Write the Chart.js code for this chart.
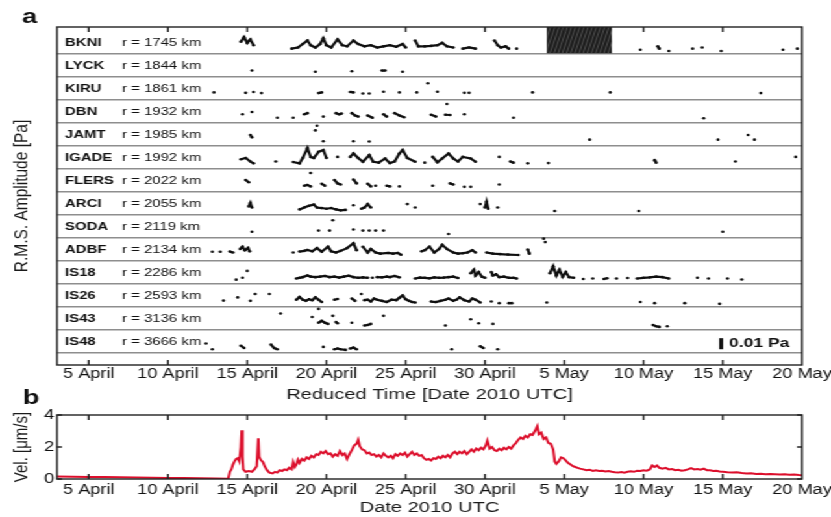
<!DOCTYPE html>
<html>
<head>
<meta charset="utf-8">
<script src="https://cdn.jsdelivr.net/npm/chart.js@4.4.1/dist/chart.umd.min.js"></script>
<style>
  html, body { margin: 0; padding: 0; background: #fff; overflow: hidden; }
  #wrap { position: relative; width: 640px; height: 517px; transform: scaleX(1.2984); transform-origin: 0 0; }
  #wrap canvas { position: absolute; left: 0; }
  #chartA { top: 0; }
  #chartB { top: 380px; }
</style>
</head>
<body>
<div id="wrap">
  <canvas id="chartA" width="640" height="410"></canvas>
  <canvas id="chartB" width="640" height="137"></canvas>
</div>
<script>
// the original figure is stretched sideways, so the canvases are too
const S = 1.2984;
const FONT = "'Liberation Sans', Arial, Helvetica, sans-serif";
const INK = '#111';

const stations = ['BKNI', 'LYCK', 'KIRU', 'DBN', 'JAMT', 'IGADE', 'FLERS', 'ARCI', 'SODA', 'ADBF', 'IS18', 'IS26', 'IS43', 'IS48'];
const distances = [1745, 1844, 1861, 1932, 1985, 1992, 2022, 2055, 2119, 2134, 2286, 2593, 3136, 3666];

// days counted from 0 April 2010
const tickDays = [5, 10, 15, 20, 25, 30, 35, 40, 45, 50];
const tickLabels = ['5 April', '10 April', '15 April', '20 April', '25 April', '30 April', '5 May', '10 May', '15 May', '20 May'];

// r.m.s. amplitude traces: [day, height above the row floor in row units], null = break
const bkni = [[14.6,0.5],[14.8,0.7],[15.0,0.45],[15.2,0.6],[15.4,0.35],null,
  [17.8,0.2],[18.2,0.25],[18.5,0.4],[18.8,0.55],[19.0,0.35],[19.3,0.25],[19.6,0.4],[19.8,0.65],[20.0,0.35],[20.3,0.25],[20.7,0.6],[21.0,0.35],[21.3,0.3],[21.7,0.55],[22.0,0.4],[22.4,0.3],[22.8,0.35],[23.2,0.25],[23.6,0.3],[24.0,0.35],[24.4,0.28],[24.8,0.4],[25.0,0.25],null,
  [25.6,0.55],[25.8,0.3],[26.2,0.3],[26.6,0.32],[27.0,0.35],[27.3,0.45],[27.6,0.3],[28.0,0.25],null,[28.6,0.2],[29.0,0.25],[29.4,0.2],null,
  [30.6,0.55],[30.8,0.35],[31.0,0.25],[31.3,0.3],[31.5,0.2],null,[32.0,0.2],null,
  [39.8,0.15],null,[40.9,0.3],[41.0,0.2],null,[41.6,0.1],null,[43.1,0.2],null,[43.7,0.25],null,[44.9,0.1],null,[48.8,0.15],null,[49.7,0.2]];
const lyck = [[15.3,0.25],null,[19.3,0.2],null,[21.6,0.22],null,[23.5,0.25],[23.7,0.25],null,[24.8,0.2]];
const kiru = [[12.9,0.3],null,[14.9,0.28],null,[15.4,0.32],null,[15.9,0.27],null,[19.5,0.27],[19.7,0.3],null,[21.5,0.32],[21.7,0.3],null,
  [22.3,0.25],null,[22.7,0.25],null,[23.6,0.33],null,[24.6,0.3],null,[25.7,0.3],null,[26.4,0.7],null,[27.0,0.33],null,[28.7,0.28],null,
  [29.0,0.28],null,[33.0,0.3],null,[37.9,0.3],null,[47.4,0.27]];
const dbn = [[14.7,0.35],null,[15.3,0.45],null,[16.9,0.2],null,[17.9,0.2],null,[18.6,0.35],[18.8,0.4],null,[19.8,0.25],null,
  [20.6,0.4],[20.8,0.35],[20.95,0.38],null,[21.6,0.4],[21.8,0.3],[22.0,0.25],null,[22.6,0.3],[22.9,0.2],null,[23.6,0.35],[23.8,0.25],null,
  [24.3,0.4],[24.6,0.3],[24.9,0.22],null,[26.6,0.33],[26.9,0.25],null,[27.5,0.33],[27.8,0.32],null,[27.6,0.8],null,[28.7,0.35],null,
  [31.8,0.2],null,[43.8,0.18]];
const jamt = [[15.2,0.45],[15.3,0.35],null,[19.4,0.85],null,[19.3,0.65],null,[19.8,0.18],null,[21.7,0.18],null,[22.7,0.17],null,
  [36.6,0.25],null,[44.7,0.25],null,[46.6,0.45],null,[47.0,0.25]];
const igade = [[14.6,0.4],[14.9,0.45],[15.2,0.3],[15.4,0.22],null,[16.8,0.3],null,
  [17.9,0.28],[18.3,0.22],[18.5,0.45],[18.8,0.88],[19.0,0.5],[19.2,0.45],[19.5,0.72],[19.8,0.8],[20.0,0.45],null,[20.7,0.5],null,
  [21.5,0.5],[21.7,0.65],[22.0,0.45],[22.3,0.29],[22.7,0.58],[22.95,0.29],[23.3,0.25],[23.7,0.43],[24.0,0.23],[24.3,0.3],[24.6,0.65],[24.8,0.8],[25.1,0.45],[25.6,0.29],null,
  [26.2,0.25],null,[26.7,0.5],[27.0,0.27],[27.3,0.43],[27.7,0.65],[28.0,0.43],[28.3,0.3],[28.6,0.5],[29.1,0.43],[29.4,0.29],null,
  [30.9,0.5],null,[31.6,0.3],[31.8,0.25],null,[32.7,0.22],null,[34.0,0.23],null,[40.7,0.36],[40.8,0.25],null,[45.8,0.3],null,[49.6,0.5]];
const flers = [[14.9,0.5],[15.1,0.4],null,[18.6,0.25],[18.8,0.28],[19.0,0.22],null,[19.0,0.8],null,[19.7,0.33],[19.9,0.25],null,
  [20.5,0.5],[20.7,0.35],[20.9,0.3],null,[21.7,0.52],[21.9,0.35],null,[22.6,0.33],[22.8,0.22],null,[23.1,0.25],null,[23.8,0.25],[24.0,0.22],null,
  [24.6,0.22],null,[26.7,0.25],null,[27.8,0.35],[28.0,0.3],null,[28.7,0.2],null,[29.1,0.2],null,[30.9,0.3]];
const arci = [[15.1,0.35],[15.2,0.5],[15.3,0.3],null,
  [18.3,0.22],[18.6,0.3],[18.9,0.38],[19.2,0.43],[19.4,0.3],[19.7,0.28],[20.0,0.25],[20.3,0.28],[20.6,0.22],[20.9,0.18],[21.2,0.2],null,
  [21.7,0.4],null,[22.2,0.25],[22.4,0.3],[22.6,0.45],[22.8,0.3],null,[25.1,0.45],null,[25.6,0.3],null,[29.7,0.45],null,
  [30.0,0.3],[30.1,0.55],[30.2,0.25],null,[30.8,0.3],null,[34.4,0.15],null,[39.7,0.15]];
const soda = [[15.3,0.25],null,[20.4,0.75],null,[19.5,0.3],null,[20.2,0.3],null,[21.7,0.35],null,[22.3,0.3],null,[22.7,0.3],null,
  [23.1,0.3],null,[23.6,0.3],null,[27.7,0.15],null,[45.0,0.25]];
const adbf = [[12.8,0.38],null,[13.3,0.38],null,[13.9,0.39],[14.1,0.35],null,[14.55,0.5],[14.7,0.6],[14.85,0.45],[15.05,0.55],[15.15,0.4],null,
  [17.9,0.35],null,[18.3,0.39],[18.6,0.42],[18.8,0.46],[19.1,0.4],[19.4,0.54],[19.7,0.38],[20.1,0.6],[20.3,0.4],[20.6,0.35],[20.9,0.42],[21.3,0.54],[21.7,0.75],[21.9,0.45],null,
  [22.3,0.6],[22.6,0.35],[22.8,0.5],[23.1,0.35],[23.4,0.3],[23.9,0.33],[24.2,0.3],[24.5,0.33],[24.7,0.25],null,
  [26.0,0.4],[26.2,0.45],[26.5,0.6],[26.8,0.35],[27.1,0.5],[27.3,0.68],[27.6,0.5],[28.0,0.35],[28.3,0.3],[28.6,0.32],[28.9,0.35],[29.2,0.45],[29.4,0.35],null,
  [30.1,0.35],[30.5,0.3],[30.95,0.28],[31.45,0.26],[32.1,0.24],null,[32.7,0.48],[32.8,0.3],null,[33.7,0.95],null,[33.8,0.8]];
const is18 = [[14.3,0.17],null,[14.7,0.25],null,[15.0,0.55],null,
  [18.1,0.22],[18.3,0.25],[18.5,0.28],[18.8,0.35],[19.0,0.3],[19.3,0.28],[19.6,0.3],[19.9,0.33],[20.2,0.28],[20.5,0.3],[20.8,0.26],[21.1,0.3],[21.4,0.34],[21.7,0.28],[22.0,0.25],[22.3,0.27],[22.6,0.25],null,
  [22.9,0.25],null,[23.2,0.28],[23.5,0.27],[23.8,0.3],[24.0,0.28],[24.3,0.33],[24.6,0.27],null,
  [25.6,0.22],[25.9,0.26],[26.2,0.25],[26.5,0.23],[26.8,0.27],[27.1,0.25],[27.4,0.26],[27.7,0.28],[28.0,0.3],[28.3,0.24],null,
  [29.1,0.45],[29.3,0.6],[29.4,0.35],[29.6,0.5],[29.8,0.3],[30.0,0.25],null,
  [30.4,0.5],[30.5,0.35],[30.7,0.4],[30.9,0.28],[31.2,0.3],[31.5,0.25],[31.8,0.25],[32.0,0.22],null,
  [34.1,0.45],[34.3,0.75],[34.5,0.35],[34.7,0.6],[34.9,0.3],[35.1,0.5],[35.3,0.28],[35.6,0.25],null,
  [36.2,0.2],null,[36.8,0.22],null,[37.5,0.2],[37.7,0.23],null,[38.3,0.22],null,[39.0,0.24],null,
  [39.6,0.22],[40.0,0.25],[40.4,0.27],[40.8,0.3],[41.2,0.28],[41.6,0.22],null,[43.4,0.25],null,[44.1,0.22],null,[45.3,0.22],null,[46.2,0.18]];
const is26 = [[13.5,0.26],null,[14.4,0.4],null,[15.2,0.25],null,[15.5,0.55],null,[16.4,0.55],null,
  [18.1,0.3],[18.3,0.42],[18.5,0.3],[18.7,0.25],[18.9,0.32],[19.1,0.28],[19.3,0.4],[19.5,0.3],[19.7,0.2],null,[20.5,0.3],[20.7,0.33],null,
  [21.6,0.35],[21.8,0.25],null,[22.2,0.55],null,
  [22.4,0.28],[22.6,0.3],[22.8,0.22],[23.0,0.35],[23.2,0.3],[23.5,0.25],[23.8,0.2],[24.1,0.3],[24.4,0.28],[24.6,0.38],[24.8,0.48],[25.0,0.32],[25.2,0.25],[25.4,0.2],[25.6,0.18],null,
  [26.6,0.22],[26.9,0.2],[27.2,0.25],[27.5,0.3],[27.7,0.35],[28.0,0.25],[28.2,0.3],[28.4,0.4],[28.7,0.28],[29.0,0.22],[29.2,0.35],[29.4,0.3],[29.7,0.18],null,
  [30.4,0.22],null,[30.9,0.15],null,[31.5,0.15],[31.7,0.15],null,[33.9,0.18],null,[39.8,0.2],null,[40.7,0.15],null,[42.6,0.15],null,[44.8,0.12]];
const is43 = [[17.1,0.7],null,[19.1,0.55],null,[19.5,0.9],null,[19.5,0.3],[19.7,0.38],[19.9,0.3],[20.1,0.25],null,[20.4,0.6],null,
  [20.6,0.33],[20.7,0.28],null,[21.6,0.3],null,[22.4,0.18],[22.6,0.2],[22.8,0.25],null,[23.6,0.6],null,[27.5,0.18],null,
  [29.1,0.45],null,[29.6,0.28],null,[30.5,0.25],null,[40.6,0.2],[40.8,0.15],[41.0,0.12],null,[41.5,0.15]];
const is48 = [[12.4,0.4],null,[12.8,0.15],null,[14.6,0.3],[14.8,0.2],null,[16.5,0.35],[16.7,0.2],[16.9,0.15],null,[19.8,0.25],null,
  [20.5,0.15],[20.7,0.18],[20.9,0.15],[21.2,0.12],null,[21.5,0.18],[21.7,0.22],[21.9,0.15],null,[27.9,0.15],null,
  [29.7,0.28],[29.9,0.2],null,[30.8,0.15]];
const amplitudes = [bkni, lyck, kiru, dbn, jamt, igade, flers, arci, soda, adbf, is18, is26, is43, is48];

// BKNI has no data here (hatched)
const bkniGap = [33.9, 38.0];

// ground velocity [day, µm/s]
const velocity = [[3,0.15],[4,0.14],[5,0.13],[6,0.12],[7,0.11],[8,0.1],[9,0.08],[10,0.07],[11,0.06],[12,0.04],[13,0.03],[13.8,0.02],
  [13.9,0.45],[14.0,0.6],[14.1,0.9],[14.2,1.1],[14.3,1.25],[14.4,1.3],[14.5,1.1],[14.6,2.0],[14.65,3.05],[14.7,1.4],[14.75,0.6],[14.9,0.45],
  [15.1,0.5],[15.3,0.45],[15.45,0.6],[15.6,0.8],[15.7,2.55],[15.75,1.4],[15.85,1.2],[16.0,1.05],[16.1,0.8],[16.25,0.55],[16.4,0.4],[16.6,0.35],
  [16.75,0.45],[16.9,0.4],[17.05,0.55],[17.2,0.5],[17.35,0.6],[17.5,0.55],[17.65,0.7],[17.8,0.6],[17.9,1.05],[18.0,0.75],[18.1,0.9],[18.2,1.2],
  [18.3,1.0],[18.45,1.25],[18.6,1.15],[18.75,1.35],[18.9,1.25],[19.05,1.45],[19.2,1.35],[19.35,1.55],[19.5,1.5],[19.65,1.7],[19.8,1.6],[19.95,1.75],
  [20.1,1.55],[20.25,1.6],[20.4,1.4],[20.55,1.55],[20.7,1.45],[20.85,1.75],[21.0,1.5],[21.15,1.6],[21.3,1.25],[21.45,1.55],[21.6,1.8],[21.75,2.1],
  [21.9,2.2],[22.0,2.45],[22.1,2.05],[22.25,1.85],[22.4,1.8],[22.55,1.6],[22.7,1.65],[22.85,1.5],[23.0,1.55],[23.15,1.4],[23.3,1.5],[23.45,1.35],
  [23.6,1.6],[23.75,1.45],[23.9,1.35],[24.05,1.45],[24.2,1.3],[24.35,1.55],[24.5,1.45],[24.65,1.6],[24.8,1.5],[24.95,1.65],[25.1,1.4],[25.25,1.55],
  [25.4,1.7],[25.55,1.5],[25.7,1.6],[25.85,1.45],[26.0,1.5],[26.15,1.3],[26.3,1.2],[26.45,1.25],[26.6,1.15],[26.75,1.3],[26.9,1.25],[27.05,1.4],
  [27.2,1.3],[27.35,1.45],[27.5,1.35],[27.65,1.5],[27.8,1.35],[27.95,1.6],[28.1,1.7],[28.25,1.55],[28.4,1.7],[28.55,1.6],[28.7,1.75],[28.85,1.55],
  [29.0,1.7],[29.15,1.85],[29.3,1.7],[29.45,1.9],[29.6,1.8],[29.75,1.95],[29.9,1.85],[30.05,2.1],[30.15,2.4],[30.3,1.9],[30.45,2.0],[30.6,1.8],
  [30.75,1.75],[30.9,1.9],[31.05,1.8],[31.2,1.95],[31.35,1.85],[31.5,2.0],[31.65,1.9],[31.8,2.1],[31.95,2.25],[32.1,2.45],[32.25,2.6],[32.4,2.5],
  [32.55,2.7],[32.7,2.6],[32.85,2.8],[33.0,2.75],[33.15,3.0],[33.3,3.3],[33.4,2.8],[33.55,2.9],[33.7,2.5],[33.85,2.6],[34.0,2.25],[34.15,2.2],
  [34.3,1.85],[34.4,1.1],[34.5,0.95],[34.65,1.1],[34.8,1.35],[34.95,1.3],[35.1,1.15],[35.25,1.0],[35.4,0.9],[35.55,0.8],[35.7,0.75],[35.85,0.7],
  [36.0,0.65],[36.2,0.6],[36.4,0.55],[36.6,0.58],[36.8,0.5],[37.0,0.55],[37.2,0.5],[37.4,0.52],[37.6,0.47],[37.8,0.5],[38.0,0.45],[38.2,0.42],
  [38.4,0.4],[38.6,0.44],[38.8,0.4],[39.0,0.45],[39.2,0.48],[39.4,0.45],[39.6,0.52],[39.8,0.5],[40.0,0.55],[40.2,0.52],[40.4,0.6],[40.55,0.85],
  [40.7,0.75],[40.85,0.85],[41.0,0.7],[41.2,0.65],[41.4,0.7],[41.6,0.6],[41.8,0.62],[42.0,0.55],[42.2,0.58],[42.4,0.52],[42.6,0.55],[42.8,0.6],
  [43.0,0.68],[43.2,0.6],[43.4,0.62],[43.6,0.58],[43.8,0.65],[44.0,0.55],[44.2,0.55],[44.4,0.5],[44.6,0.52],[44.8,0.47],[45.0,0.45],[45.3,0.42],
  [45.6,0.4],[45.9,0.42],[46.2,0.37],[46.5,0.35],[46.8,0.36],[47.1,0.32],[47.4,0.33],[47.7,0.3],[48.0,0.31],[48.3,0.3],[48.6,0.28],[48.9,0.3],
  [49.2,0.27],[49.5,0.28],[49.8,0.25],[50,0.24]];
const velTicks = [0, 2, 4];

// ---------- panel a ----------
const rowDatasets = amplitudes.map((trace, i) => {
  const base = stations.length - 1 - i;
  const pts = [];
  let last = 3;
  trace.forEach(p => {
    if (p === null) pts.push({x: last, y: null});
    else { pts.push({x: p[0], y: base + p[1]}); last = p[0]; }
  });
  return {
    label: stations[i], data: pts, showLine: true, spanGaps: false,
    borderColor: '#101010', backgroundColor: '#101010', borderWidth: 2.2,
    pointRadius: 1.3, pointBorderWidth: 0
  };
});

const yMinA = -0.535, yMaxA = 14.14;

const frame = {
  id: 'frame',
  afterDatasetsDraw(chart, args, opts) {
    const {ctx, chartArea: a, scales: {x, y}} = chart;
    ctx.save();
    if (opts.gap) {
      const x0 = x.getPixelForValue(opts.gap[0]), x1 = x.getPixelForValue(opts.gap[1]);
      const yb = y.getPixelForValue(stations.length - 1), yt = a.top;
      ctx.fillStyle = '#1d1d1d';
      ctx.fillRect(x0, yt, x1 - x0, yb - yt);
      ctx.beginPath(); ctx.rect(x0, yt, x1 - x0, yb - yt); ctx.clip();
      ctx.strokeStyle = '#5c5c5c'; ctx.lineWidth = 0.8;
      ctx.beginPath();
      for (let k = -20; k < x1 - x0 + 20; k += 3.2) { ctx.moveTo(x0 + k, yb); ctx.lineTo(x0 + k + 7, yt); }
      ctx.stroke();
    }
    ctx.restore();
  },
  afterDraw(chart, args, opts) {
    const {ctx, chartArea: a, scales: {x, y}} = chart;
    ctx.save();
    ctx.strokeStyle = '#222'; ctx.lineWidth = 1.4;
    ctx.strokeRect(a.left, a.top, a.right - a.left, a.bottom - a.top);
    ctx.beginPath();
    x.ticks.forEach(t => {
      const px = x.getPixelForValue(t.value);
      if (px > a.right - 2) return;
      ctx.moveTo(px, a.top); ctx.lineTo(px, a.top + 5);
      ctx.moveTo(px, a.bottom); ctx.lineTo(px, a.bottom - 5);
    });
    if (opts.yTicks) {
      y.ticks.forEach(t => {
        const py = y.getPixelForValue(t.value);
        ctx.moveTo(a.left, py); ctx.lineTo(a.left + 5 / S, py);
        ctx.moveTo(a.right, py); ctx.lineTo(a.right - 5 / S, py);
      });
    }
    ctx.stroke();
    if (opts.scaleBar) {
      const bx = x.getPixelForValue(44.9);
      const y0 = y.getPixelForValue(0.15), y1 = y.getPixelForValue(0.63);
      ctx.fillStyle = INK;
      ctx.fillRect(bx - 1.5, y1, 3, y0 - y1);
      ctx.font = 'bold 13.5px ' + FONT;
      ctx.textAlign = 'left'; ctx.textBaseline = 'middle';
      ctx.fillText('0.01 Pa', x.getPixelForValue(45.4), y.getPixelForValue(0.4));
    }
    ctx.fillStyle = INK;
    ctx.font = 'bold 21px ' + FONT;
    ctx.textAlign = 'center'; ctx.textBaseline = 'middle';
    ctx.fillText(opts.letter, opts.letterX, opts.letterY);
    ctx.restore();
  }
};

const rowTicks = stations.map((_, i) => i === 0 ? stations.length - 1 + 0.45 : stations.length - 1 - i + 0.45);

new Chart(document.getElementById('chartA'), {
  type: 'scatter',
  data: { datasets: rowDatasets },
  plugins: [frame],
  options: {
    responsive: false, animation: false, events: [],
    layout: { padding: { top: 27, right: 640 - 802 / S, left: 0, bottom: 0 } },
    plugins: {
      legend: { display: false }, tooltip: { enabled: false },
      frame: { gap: bkniGap, scaleBar: true, letter: 'a', letterX: 29.5 / S, letterY: 17 }
    },
    scales: {
      x: {
        type: 'linear', min: 3, max: 50, position: 'bottom',
        grid: { display: false, drawTicks: false }, border: { display: false },
        afterBuildTicks: s => { s.ticks = tickDays.map(v => ({ value: v })); },
        afterFit: s => { s.height = 45; s.paddingLeft = 0; s.paddingRight = 0; },
        ticks: { autoSkip: false, maxRotation: 0, padding: 1, color: INK,
                 font: { family: FONT, size: 14 }, callback: (v, i) => tickLabels[i] },
        title: { display: true, text: 'Reduced Time [Date 2010 UTC]', color: '#1a1a1a',
                 font: { family: FONT, size: 15.5 }, padding: { top: 0, bottom: 5.5 } }
      },
      y: {
        type: 'linear', min: yMinA, max: yMaxA, position: 'left', weight: 10,
        grid: { color: '#8e8e8e', lineWidth: 1.5, drawTicks: false }, border: { display: false },
        ticks: { display: false },
        afterBuildTicks: s => { s.ticks = stations.map((_, k) => ({ value: k })); },
        afterFit: s => { s.width = 57 / S; s.paddingTop = 0; s.paddingBottom = 0; },
        title: { display: true, text: 'R.M.S. Amplitude [Pa]', color: '#1a1a1a',
                 font: { family: FONT, size: 15.5 }, padding: { top: 7.3, bottom: 0 } }
      },
      yName: {
        type: 'linear', min: yMinA, max: yMaxA, position: 'left', weight: 0,
        grid: { display: false }, border: { display: false },
        afterBuildTicks: s => { s.ticks = rowTicks.map(v => ({ value: v })); },
        afterFit: s => { s.width = 0; s.paddingTop = 0; s.paddingBottom = 0; },
        ticks: { mirror: true, padding: (65 - 57) / S, autoSkip: false, color: INK,
                 font: { family: FONT, size: 11.5, weight: 'bold' }, callback: (v, i) => stations[i] }
      },
      yDist: {
        type: 'linear', min: yMinA, max: yMaxA, position: 'left', weight: 0,
        grid: { display: false }, border: { display: false },
        afterBuildTicks: s => { s.ticks = rowTicks.map(v => ({ value: v })); },
        afterFit: s => { s.width = 0; s.paddingTop = 0; s.paddingBottom = 0; },
        ticks: { mirror: true, padding: (122 - 57) / S, autoSkip: false, color: INK,
                 font: { family: FONT, size: 11.5 }, callback: (v, i) => 'r = ' + distances[i] + ' km' }
      }
    }
  }
});

// ---------- panel b ----------
new Chart(document.getElementById('chartB'), {
  type: 'scatter',
  data: {
    datasets: [{
      label: 'Vel.', data: velocity.map(p => ({ x: p[0], y: p[1] })), showLine: true,
      borderColor: '#dc0f2c', borderWidth: 2, pointRadius: 0
    }]
  },
  plugins: [frame],
  options: {
    responsive: false, animation: false, events: [],
    layout: { padding: { top: 35, right: 640 - 802 / S, left: 0, bottom: 0 } },
    plugins: {
      legend: { display: false }, tooltip: { enabled: false },
      frame: { yTicks: true, letter: 'b', letterX: 31 / S, letterY: 18 }
    },
    scales: {
      x: {
        type: 'linear', min: 3, max: 50,
        grid: { display: false, drawTicks: false }, border: { display: false },
        afterBuildTicks: s => { s.ticks = tickDays.map(v => ({ value: v })); },
        afterFit: s => { s.height = 38; s.paddingLeft = 0; s.paddingRight = 0; },
        ticks: { autoSkip: false, maxRotation: 0, padding: 2.6, color: INK,
                 font: { family: FONT, size: 14 }, callback: (v, i) => tickLabels[i] },
        title: { display: true, text: 'Date 2010 UTC', color: '#1a1a1a',
                 font: { family: FONT, size: 15.5 }, padding: { top: 0, bottom: 0 } }
      },
      y: {
        type: 'linear', min: 0, max: 4,
        grid: { display: false, drawTicks: false }, border: { display: false },
        afterBuildTicks: s => { s.ticks = velTicks.map(v => ({ value: v })); },
        afterFit: s => { s.width = 57 / S; s.paddingTop = 0; s.paddingBottom = 0; },
        ticks: { padding: 2, color: INK, font: { family: FONT, size: 14 } },
        title: { display: true, text: 'Vel. [μm/s]', color: '#1a1a1a',
                 font: { family: FONT, size: 15 }, padding: { top: 8, bottom: 0 } }
      }
    }
  }
});
</script>
</body>
</html>
